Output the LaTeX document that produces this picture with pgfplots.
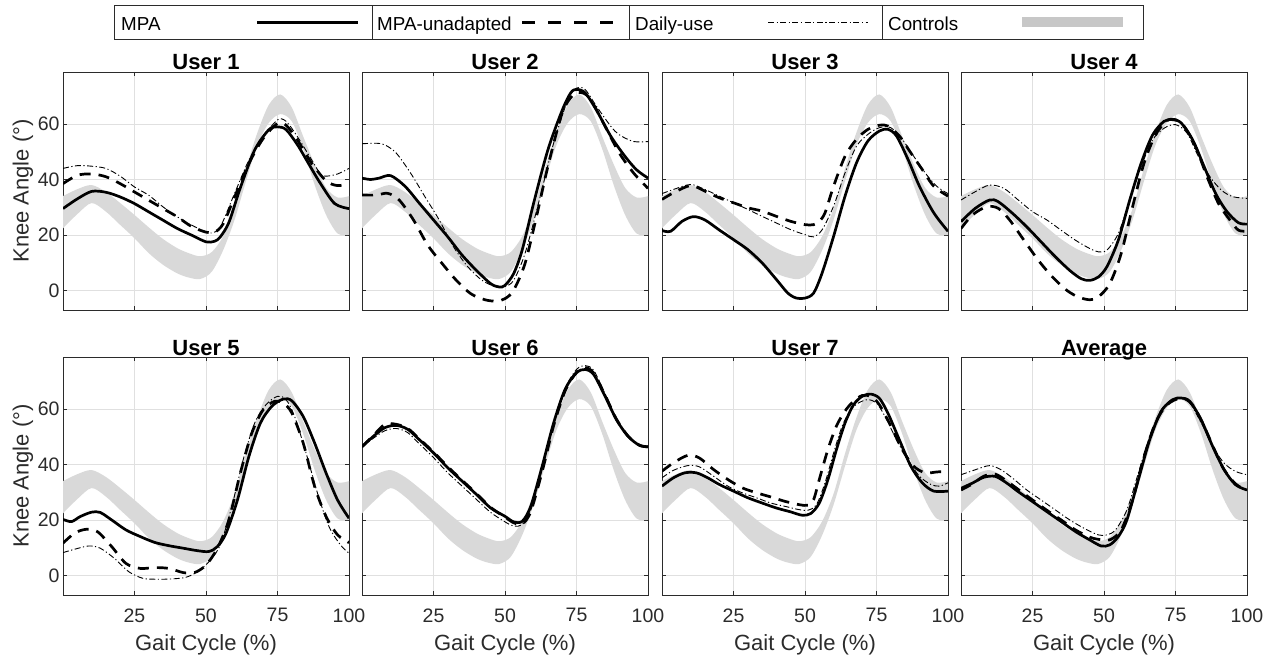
\documentclass[border=0pt]{standalone}
\usepackage{fontspec}
\setmainfont{Liberation Sans}
\usepackage{pgfplots}
\pgfplotsset{compat=1.18}
\usepackage{pgfplotstable}
\usepgfplotslibrary{fillbetween}

\definecolor{bandgray}{gray}{0.85}
\definecolor{axisgray}{gray}{0.17}
\definecolor{gridgray}{gray}{0.88}

\newcommand\ticksize{\fontsize{19.5pt}{22pt}\selectfont}
\newcommand\labelsize{\fontsize{22pt}{25pt}\selectfont}
\newcommand\legsize{\fontsize{18.8pt}{22pt}\selectfont}

% control group: mean +/- sd envelope
\pgfplotstableread{
gc  upper lower
0   34.0  22.4
5   36.5  27.5
10  38.0  31.5
15  35.5  28.4
20  31.5  23.6
25  27.2  18.8
30  22.7  13.4
35  18.5   9.2
40  15.2   6.1
44  13.4   4.6
48  12.3   4.1
52  13.8   6.7
56  19.5  14.5
60  29.5  25.5
64  44.0  39.5
68  57.0  52.5
72  67.0  60.5
76  70.7  63.6
80  66.0  61.0
84  55.5  51.0
88  45.5  38.0
92  37.0  27.2
96  33.5  20.5
100 34.0  20.0
}\ctrldata

\pgfplotsset{
  panel/.style={
    scale only axis, width=286pt, height=238pt,
    anchor=south west,
    xmin=0, xmax=100, ymin=-7.1, ymax=78.8,
    xtick={25,50,75,100}, ytick={0,20,40,60},
    grid=major, grid style={gridgray, line width=0.8pt},
    axis line style={axisgray, line width=0.8pt},
    tick style={axisgray, line width=0.6pt},
    major tick length=4pt,
    /pgf/number format/assume math mode=true,
    ticklabel style={font=\ticksize, text=axisgray},
    xticklabel style={yshift=-10pt},
    title style={font=\labelsize\bfseries, anchor=base, yshift=-4pt},
    label style={font=\labelsize, text=axisgray},
  },
  nox/.style={xticklabels={}},
  noy/.style={yticklabels={}},
  withx/.style={xlabel={Gait Cycle (\%)},
    xlabel style={at={(axis description cs:0.5,0)}, anchor=base, yshift=-55pt}},
  withy/.style={ylabel={Knee Angle (°)},
    ylabel style={at={(axis description cs:-0.12,0.5)}, anchor=base}},
  mpa/.style={black, line width=2.7pt, smooth},
  unad/.style={black, line width=2.7pt, smooth, dash pattern=on 11pt off 8pt},
  daily/.style={black, line width=0.9pt, smooth, dash pattern=on 6pt off 2.5pt on 1.2pt off 2.5pt},
}

\newcommand\controlsband{%
  \addplot[name path=ctrlup, draw=none, smooth] table[x=gc, y=upper] {\ctrldata};
  \addplot[name path=ctrllo, draw=none, smooth] table[x=gc, y=lower] {\ctrldata};
  \addplot[fill=bandgray, draw=none] fill between[of=ctrlup and ctrllo];
}

\begin{document}
\begin{tikzpicture}

% ---------- legend ----------
\draw[axisgray, line width=0.8pt, fill=white] (114pt,-5pt) rectangle (1143pt,-39pt);
\draw[axisgray, line width=0.8pt] (372pt,-5pt) -- (372pt,-39pt);
\draw[axisgray, line width=0.8pt] (629pt,-5pt) -- (629pt,-39pt);
\draw[axisgray, line width=0.8pt] (882pt,-5pt) -- (882pt,-39pt);
\node[anchor=base west, inner sep=0pt, font=\legsize] at (121pt,-30pt) {MPA};
\node[anchor=base west, inner sep=0pt, font=\legsize] at (377pt,-30pt) {MPA-unadapted};
\node[anchor=base west, inner sep=0pt, font=\legsize] at (635pt,-30pt) {Daily-use};
\node[anchor=base west, inner sep=0pt, font=\legsize] at (888pt,-30pt) {Controls};
\draw[black, line width=2.7pt] (257pt,-22.7pt) -- (358pt,-22.7pt);
\draw[black, line width=2.7pt, dash pattern=on 13pt off 13pt] (522pt,-22.7pt) -- (614pt,-22.7pt);
\draw[black, line width=0.9pt, dash pattern=on 6pt off 2.5pt on 1.2pt off 2.5pt] (768pt,-22.7pt) -- (868pt,-22.7pt);
\fill[black!22] (1022pt,-16.5pt) rectangle (1123pt,-27pt);

% ---------- User 1 ----------
\begin{axis}[panel, nox, withy, title={User 1}, at={(63pt,-310pt)}]
\controlsband
\addplot[daily] coordinates {(0,44)(5,45)(10,44.8)(15,44)(20,41.2)(25,37.3)(30,34.3)(35,30.1)(40,26.5)(45,23.5)(50,21.1)(52,20.7)(55,22.9)(60,35)(65,47)(70,55.4)(75,61.5)(78,61)(82,55.4)(87,47)(90,42)(92,41.2)(96,42)(100,44)};
\addplot[unad] coordinates {(0,38.5)(5,41.5)(10,42)(15,41)(20,38.5)(25,35.5)(30,32.5)(35,29.5)(40,26.5)(45,23)(50,21)(53,21)(56,24)(60,33.7)(65,45.8)(70,54.8)(75,60.2)(78,59.6)(82,54.2)(87,45.8)(92,39.5)(96,37.8)(100,38.5)};
\addplot[mpa] coordinates {(0,29.5)(5,33)(10,35.7)(15,35.4)(20,33.7)(25,31.3)(30,28.3)(35,25.3)(40,22.3)(45,19.9)(50,17.5)(53,17.7)(55,19.3)(58,24.5)(62,37)(67,50.6)(72,58)(75,59)(78,58)(82,52.5)(86,45.5)(90,38.6)(95,31.3)(100,29.5)};
\end{axis}

% ---------- User 2 ----------
\begin{axis}[panel, nox, noy, title={User 2}, at={(362pt,-310pt)}]
\controlsband
\addplot[daily] coordinates {(0,52.9)(5,53.1)(8,52.5)(12,49.5)(17,42.3)(22,33.8)(27,25.4)(32,15.7)(37,8.5)(42,3.6)(47,1.2)(50,1.4)(53,3.6)(57,13.3)(62,32.6)(67,53.1)(72,68.8)(75,73)(78,72.5)(82,66.4)(87,59.2)(90,56.1)(95,53.7)(100,53.7)};
\addplot[unad] coordinates {(0,34.4)(5,34.4)(9,35)(13,32.6)(18,25.4)(23,16.3)(28,9.7)(33,3.6)(38,-1.2)(43,-3.4)(47,-3.9)(50,-3)(53,0)(57,9.7)(61,26.6)(65,44.7)(70,64)(74,70.7)(77,71.3)(80,68.8)(85,59.2)(90,49.5)(95,42.3)(100,36.8)};
\addplot[mpa] coordinates {(0,40.5)(3,40)(6,40.5)(10,41.4)(15,37.6)(20,31.5)(25,25.4)(30,19.3)(35,12.7)(40,7.2)(45,2.4)(48,1.2)(50,1.8)(53,6)(56,14.5)(60,31.4)(65,50.7)(70,65)(73,71.3)(75,72.5)(78,71.3)(82,65)(87,55.6)(92,48.3)(96,43.5)(100,40.5)};
\end{axis}

% ---------- User 3 ----------
\begin{axis}[panel, nox, noy, title={User 3}, at={(662pt,-310pt)}]
\controlsband
\addplot[daily] coordinates {(0,34.9)(4,36.4)(10,38.2)(15,36.4)(20,34)(25,31.6)(30,29.2)(35,26.7)(40,24.3)(45,21.9)(50,20.1)(53,19.3)(56,21.9)(60,30.4)(64,42.4)(68,52)(72,56.3)(76,58.7)(80,58.7)(84,54.5)(88,48.4)(92,42.4)(96,37.6)(100,34.9)};
\addplot[unad] coordinates {(0,32.8)(4,35.2)(10,37.8)(15,35.8)(20,33.4)(25,31.6)(30,29.8)(35,28.6)(40,26.7)(45,24.9)(50,23.7)(53,23.7)(55,24.9)(57,28)(60,37.6)(64,48.4)(68,54.5)(72,58.1)(76,59.6)(79,59.3)(83,55.7)(87,49.6)(91,43.6)(95,37.6)(100,34)};
\addplot[mpa] coordinates {(0,21.6)(3,21.3)(7,24.9)(11,26.6)(15,25.4)(20,21.8)(25,18.3)(30,14.7)(35,9.9)(40,3.9)(44,-1)(47,-2.8)(50,-2.8)(53,-1)(56,6.3)(60,19.5)(64,34)(68,46)(72,53.9)(76,57.5)(79,58.1)(82,55.7)(86,47.3)(90,37.6)(95,28)(100,21.3)};
\end{axis}

% ---------- User 4 ----------
\begin{axis}[panel, nox, noy, title={User 4}, at={(961pt,-310pt)}]
\controlsband
\addplot[daily] coordinates {(0,32.6)(5,35.6)(10,38)(15,36.8)(20,32.6)(25,28.4)(30,25.4)(35,21.7)(40,18.1)(45,15.1)(48,13.9)(51,14.5)(55,20.5)(59,32.6)(63,44.7)(67,54.3)(71,58.5)(75,59.8)(79,56.8)(83,48.3)(87,41.1)(91,36.2)(95,33.8)(100,33.2)};
\addplot[unad] coordinates {(0,22.3)(4,27.2)(9,30.2)(13,29.6)(17,25.4)(22,18.1)(27,10.9)(32,4.8)(37,0)(41,-2.4)(45,-3.4)(48,-2.4)(52,2.4)(56,13.3)(60,30.2)(64,45.9)(68,56.1)(72,61.2)(75,61.6)(78,59.2)(82,51.9)(86,41.1)(90,31.4)(94,25.4)(97,21.7)(100,21.4)};
\addplot[mpa] coordinates {(0,24.8)(5,29.6)(10,32.6)(13,32)(18,27.8)(23,22.9)(28,17.5)(33,12.1)(38,7.2)(42,4.2)(45,3.6)(48,4.8)(51,8.5)(55,18.1)(59,32.6)(63,45.9)(67,56.1)(71,61)(74,61.6)(77,60.4)(81,54.3)(85,44.7)(89,35)(93,28.4)(97,24.4)(100,23.9)};
\end{axis}

% ---------- User 5 ----------
\begin{axis}[panel, withx, withy, title={User 5}, at={(63pt,-595pt)}]
\controlsband
\addplot[daily] coordinates {(0,8.2)(4,9.4)(9,10.6)(13,9.8)(18,6.1)(23,1.3)(28,-1.1)(33,-1.4)(38,-1.3)(43,-0.7)(47,1.3)(51,4.9)(55,11)(59,24.8)(63,41.7)(67,54.9)(71,61.6)(75,64.6)(78,63.4)(81,57.3)(85,44.1)(89,29.6)(93,17.6)(97,11)(100,8)};
\addplot[unad] coordinates {(0,11.6)(4,15.2)(8,16.6)(12,15.8)(17,10.4)(22,4.3)(27,2.5)(32,2.8)(37,2.5)(42,1)(46,1)(50,3.7)(54,9.8)(58,20)(62,36.9)(66,51.3)(70,59.8)(74,62.8)(77,62.2)(80,58.6)(84,47.7)(88,32)(92,21.2)(96,14.6)(100,11.8)};
\addplot[mpa] coordinates {(0,20.2)(3,19.4)(6,21.2)(10,22.8)(13,22.7)(17,20)(22,16.4)(27,14)(32,11.9)(37,10.7)(42,9.8)(47,8.9)(51,8.6)(54,10.4)(57,15.2)(61,27.2)(65,42.9)(69,54.9)(73,61)(77,63.6)(80,63)(84,57.3)(88,47.7)(92,36.9)(96,27.2)(100,20.6)};
\end{axis}

% ---------- User 6 ----------
\begin{axis}[panel, withx, noy, title={User 6}, at={(362pt,-595pt)}]
\controlsband
\addplot[daily] coordinates {(0,46.4)(4,49.5)(8,52.2)(12,53)(16,51.5)(20,47.5)(25,42.5)(30,37)(35,32.2)(40,27.4)(45,22.7)(50,19.3)(53,17.8)(56,18.3)(59,23.5)(63,38.5)(67,55)(71,67.5)(75,74.3)(78,75.7)(81,74)(85,65.5)(89,56.5)(93,50.5)(97,47)(100,46.4)};
\addplot[unad] coordinates {(0,46.4)(4,50.5)(8,54.5)(12,54.5)(16,53)(20,49.3)(25,44.5)(30,39.2)(35,34.3)(40,29.5)(45,24.5)(50,21)(53,19)(56,18.5)(59,23)(63,37.5)(67,54)(71,66.5)(75,73.3)(78,75)(81,73)(85,65)(89,56.3)(93,50.3)(97,47)(100,46.4)};
\addplot[mpa] coordinates {(0,46.4)(4,50.2)(8,53.3)(12,54.1)(16,52.7)(20,49)(25,44.2)(30,38.8)(35,34)(40,29.2)(45,24.3)(50,21.3)(53,19.3)(56,19.5)(59,24.9)(63,39.4)(67,55)(71,67.1)(75,73.1)(78,74.3)(81,72.5)(85,64.6)(89,56.1)(93,50.2)(97,46.9)(100,46.4)};
\end{axis}

% ---------- User 7 ----------
\begin{axis}[panel, withx, noy, title={User 7}, at={(662pt,-595pt)}]
\controlsband
\addplot[daily] coordinates {(0,35.2)(4,37.9)(9,39.6)(13,39.2)(18,35.8)(23,32.2)(28,29.8)(33,28)(38,26.1)(43,24.9)(48,23.7)(51,23.5)(54,25.5)(57,33.4)(60,44.2)(63,53.9)(66,59.8)(69,62.4)(72,63.4)(75,62.2)(78,57.3)(82,48.9)(86,41.7)(90,35.8)(94,32.8)(97,32.2)(100,33.4)};
\addplot[unad] coordinates {(0,37.6)(4,40.6)(9,43.3)(13,42.4)(18,38.2)(23,34.6)(28,31.6)(33,29.8)(38,28.3)(43,26.7)(48,25.5)(51,25.3)(53,27.3)(55,34.6)(58,45.4)(61,53.9)(64,59.3)(67,62.9)(70,64.9)(73,64.6)(76,61.6)(80,53.9)(84,45.4)(88,39.4)(92,37)(96,37.3)(100,37.6)};
\addplot[mpa] coordinates {(0,32.2)(4,35.2)(8,37)(12,37)(16,35.2)(20,32.8)(25,30.4)(30,28)(35,26.1)(40,24.3)(45,22.9)(49,21.7)(52,22.3)(55,26.1)(58,34.5)(61,45.4)(64,55)(67,61.6)(70,64.6)(73,65.4)(76,63.9)(79,58.5)(83,48.9)(87,39.4)(91,33.4)(95,30.4)(100,30.4)};
\end{axis}

% ---------- Average ----------
\begin{axis}[panel, withx, noy, title={Average}, at={(961pt,-595pt)}]
\controlsband
\addplot[daily] coordinates {(0,36.3)(5,38.1)(10,39.6)(14,38.1)(18,35.1)(23,30.8)(28,27.2)(33,23.6)(38,20)(43,17)(48,14.6)(51,14.6)(54,16.4)(58,23.6)(62,36.9)(66,50.2)(70,59.8)(74,63.6)(77,63.9)(80,62.2)(84,55)(88,46.5)(92,40.5)(96,37.5)(100,36.3)};
\addplot[unad] coordinates {(0,30.8)(4,33)(8,35.8)(12,36.5)(16,34)(20,31)(25,27.2)(30,23.5)(35,20)(40,16.4)(45,13.8)(48,13)(52,12.8)(56,16.4)(60,27.2)(64,42.9)(68,55)(72,61.5)(77,64)(81,61.5)(85,53.7)(89,44.5)(92,38.1)(96,33)(100,30.5)};
\addplot[mpa] coordinates {(0,31.4)(4,33.3)(8,35.4)(12,35.7)(16,33.3)(20,30.2)(25,26.6)(30,23)(35,19.4)(40,15.8)(45,12.8)(49,10.6)(52,11)(55,14)(58,20)(62,34.5)(66,49)(70,59.2)(74,63.4)(77,64)(80,62.8)(84,56.1)(88,46.5)(92,38.1)(96,32.7)(100,30.8)};
\end{axis}

% page frame
\path (0pt,0pt) rectangle (1271pt,-657pt);
\end{tikzpicture}
\end{document}
